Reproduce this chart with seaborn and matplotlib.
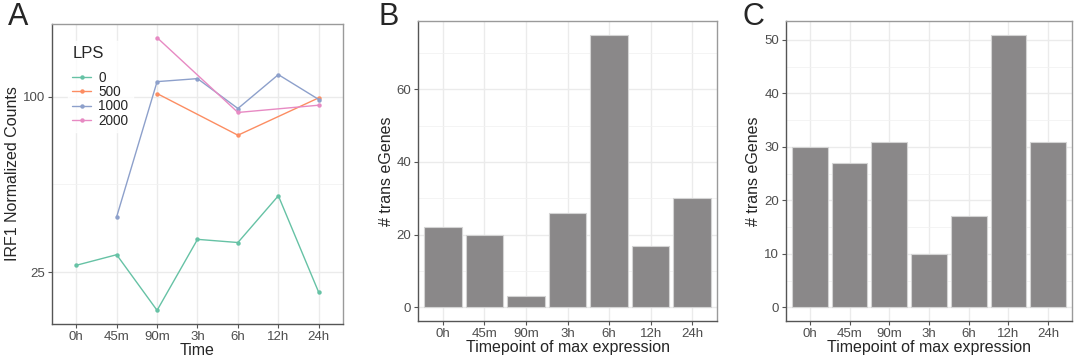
import numpy as np
import pandas as pd
import matplotlib
matplotlib.use("Agg")
import matplotlib.pyplot as plt
from matplotlib.ticker import FixedLocator, NullFormatter
import seaborn as sns

# ---------------- data ----------------
timepoints = ["0h", "45m", "90m", "3h", "6h", "12h", "24h"]

lps_levels = ["0", "500", "1000", "2000"]
irf1_lps0 = [26.4, 28.7, 18.5, 32.4, 31.6, 45.7, 21.3]
irf1_lps500 = [None, None, 102.4, None, 73.7, None, 99.0]
irf1_lps1000 = [None, 38.7, 112.5, 115.2, 91.0, 118.9, 97.7]
irf1_lps2000 = [None, None, 159.2, None, 88.2, None, 93.4]

counts_B = [22, 20, 3, 26, 75, 17, 30]
counts_C = [30, 27, 31, 10, 17, 51, 31]

palette = ["#66C2A5", "#FC8D62", "#8DA0CB", "#E78AC3"]

# ---------------- style ----------------
sns.set_theme(style="white")
plt.rcParams["font.family"] = ["Liberation Sans", "DejaVu Sans"]

fig = plt.figure(figsize=(10.76, 3.62), dpi=100)
axA = fig.add_axes([0.0483, 0.105, 0.2705, 0.8287])
axB = fig.add_axes([0.3885, 0.1133, 0.2779, 0.8287])
axC = fig.add_axes([0.7305, 0.1133, 0.2658, 0.8287])

tick_col = "#4d4d4d"
grid_col = "#ebebeb"
TICK_FS = 9.5
TITLE_FS = 11.5


def style_axes(ax):
    ax.set_facecolor("white")
    for side, sp in ax.spines.items():
        sp.set_visible(True)
        sp.set_linewidth(1.0)
        sp.set_color("#9a9a9a" if side in ("top", "right") else "#555555")
    ax.tick_params(axis="both", which="major", length=3, width=0.8, color="#555555",
                   labelsize=TICK_FS, labelcolor=tick_col, pad=2, direction="out",
                   bottom=True, left=True)
    ax.tick_params(axis="both", which="minor", length=0)
    ax.grid(True, which="major", color=grid_col, linewidth=1.0)
    ax.grid(True, which="minor", color="#f2f2f2", linewidth=0.6)
    ax.set_axisbelow(True)


# ---------------- panel A ----------------
rows = []
for lvl, vals in zip(lps_levels, [irf1_lps0, irf1_lps500, irf1_lps1000, irf1_lps2000]):
    for t, v in zip(timepoints, vals):
        if v is not None:
            rows.append({"Time": t, "LPS": lvl, "val": v, "pos": timepoints.index(t)})
dfA = pd.DataFrame(rows)

sns.lineplot(data=dfA, x="pos", y="val", hue="LPS", hue_order=lps_levels,
             palette=palette, marker="o", markersize=3.2, markeredgewidth=0,
             linewidth=1.0, ax=axA, sort=True, estimator=None)
axA.set_yscale("log", base=2)
lo = np.log2(min(dfA["val"]))
hi = np.log2(max(dfA["val"]))
pad = (hi - lo) * 0.05
axA.set_ylim(2 ** (lo - pad), 2 ** (hi + pad))
axA.set_xlim(-0.6, len(timepoints) - 0.4)
axA.yaxis.set_major_locator(FixedLocator([25, 100]))
axA.yaxis.set_minor_locator(FixedLocator([50]))
axA.yaxis.set_minor_formatter(NullFormatter())
axA.set_yticklabels(["25", "100"])
axA.set_xticks(range(len(timepoints)))
axA.set_xticklabels(timepoints)
style_axes(axA)
axA.set_xlabel("Time", fontsize=TITLE_FS, labelpad=0)
axA.set_ylabel("IRF1 Normalized Counts", fontsize=TITLE_FS, labelpad=2)
leg = axA.legend(title="LPS", loc="upper left", bbox_to_anchor=(0.03, 0.965),
                 frameon=True, fontsize=TICK_FS + 0.3, title_fontsize=TITLE_FS + 0.5,
                 handlelength=1.4, handletextpad=0.5, labelspacing=0.02,
                 borderpad=0.35)
leg._legend_box.sep = 7
leg.get_frame().set_facecolor("white")
leg.get_frame().set_edgecolor("white")
leg._legend_box.align = "left"

# ---------------- panels B, C ----------------
for ax, counts in [(axB, counts_B), (axC, counts_C)]:
    dfb = pd.DataFrame({"tp": timepoints, "n": counts})
    sns.barplot(data=dfb, x="tp", y="n", order=timepoints, color="#8a8889",
                saturation=1, width=0.9, edgecolor="#d4d4d4", linewidth=0.8, ax=ax)
    mx = max(counts)
    ax.set_ylim(-0.05 * mx, mx * 1.05)
    ax.set_xlim(-0.6, len(timepoints) - 0.4)
    style_axes(ax)
    ax.set_xlabel("Timepoint of max expression", fontsize=TITLE_FS, labelpad=0)
    ax.set_ylabel("# trans eGenes", fontsize=TITLE_FS, labelpad=2)

axB.set_yticks([0, 20, 40, 60])
axB.yaxis.set_minor_locator(FixedLocator([10, 30, 50, 70]))
axC.set_yticks([0, 10, 20, 30, 40, 50])
axC.yaxis.set_minor_locator(FixedLocator([5, 15, 25, 35, 45]))

for ax in (axA, axB, axC):
    ax.xaxis.grid(True, which="major", color=grid_col, linewidth=1.0)

# panel letters
fig.text(0.007, 0.995, "A", fontsize=22, va="top", ha="left")
fig.text(0.352, 0.995, "B", fontsize=22, va="top", ha="left")
fig.text(0.690, 0.995, "C", fontsize=22, va="top", ha="left")

fig.savefig("out.png", dpi=100, facecolor="white")
